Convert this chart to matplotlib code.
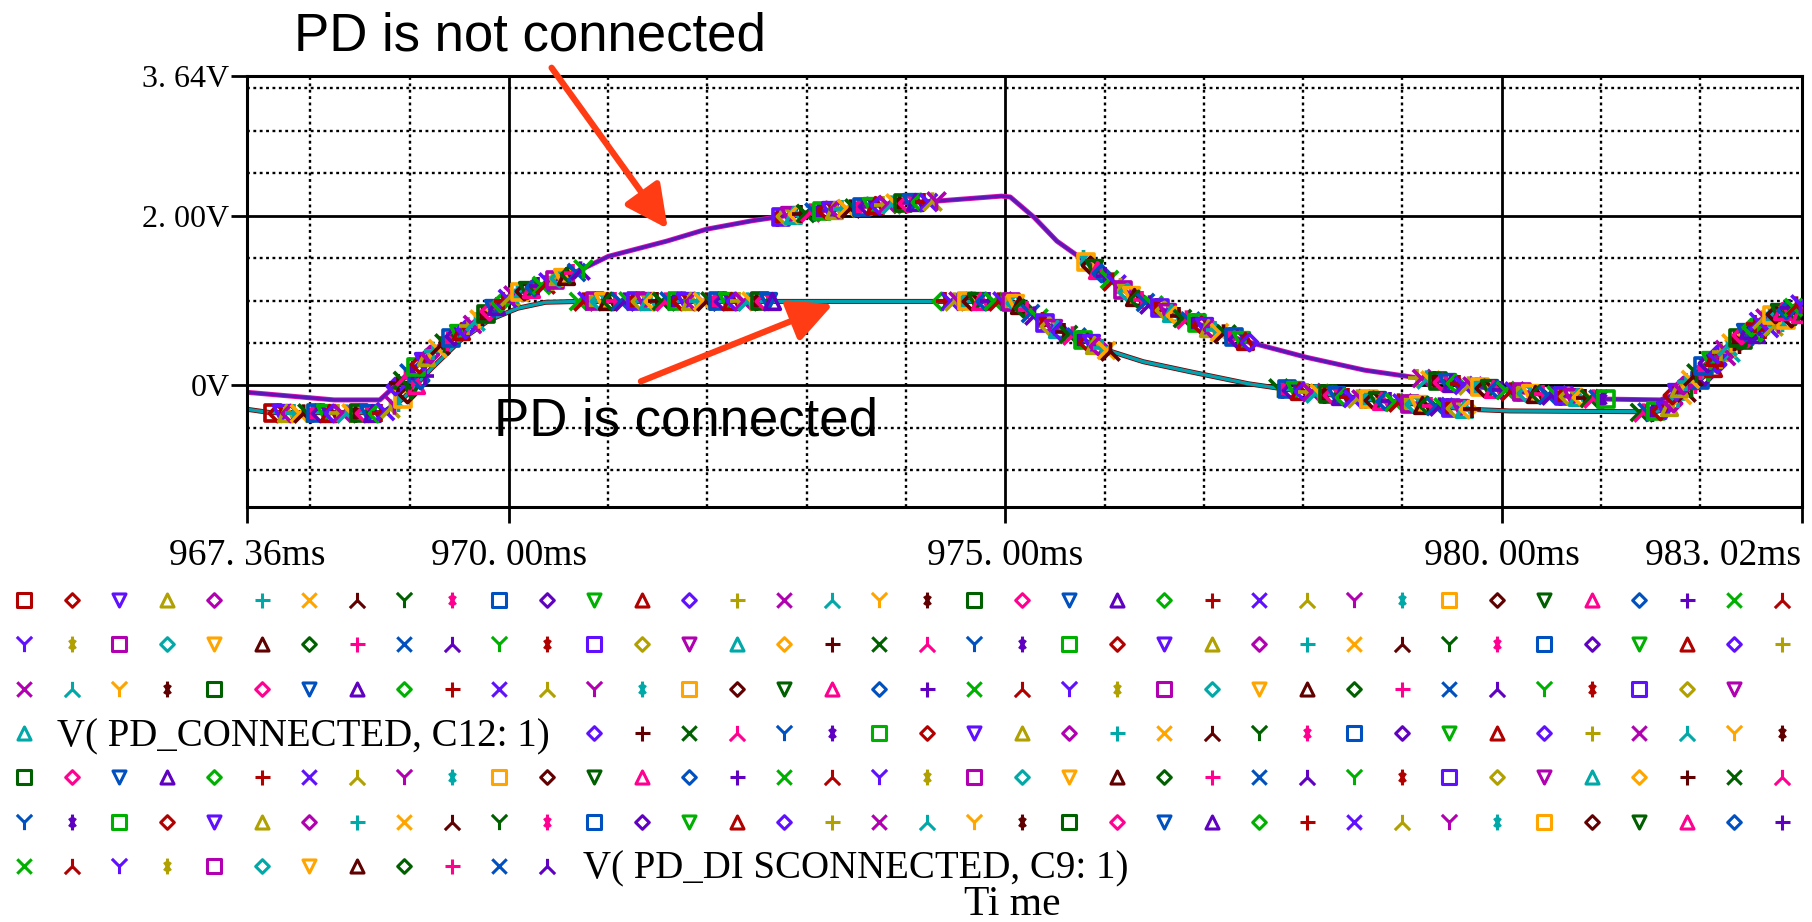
import numpy as np
import matplotlib
matplotlib.use("Agg")
import matplotlib.pyplot as plt
from matplotlib.path import Path

# ---------------- data ----------------
t_not_connected = [967.36, 968.24, 968.70, 968.93, 969.28, 969.63, 970.00, 970.37, 970.72,
                   971.00, 971.59, 971.99, 972.45, 973.09, 973.94, 974.29, 974.96, 975.05,
                   975.29, 975.52, 975.81, 976.28, 976.75, 977.39, 978.04, 978.62, 979.21,
                   979.79, 980.37, 981.02, 981.60, 981.71, 982.13, 982.60, 983.02]
v_not_connected = [-0.08, -0.17, -0.17, 0.08, 0.45, 0.73, 1.05, 1.20, 1.36,
                   1.52, 1.70, 1.84, 1.94, 2.05, 2.15, 2.17, 2.23, 2.22,
                   1.98, 1.70, 1.46, 1.05, 0.81, 0.53, 0.33, 0.18, 0.08,
                   -0.02, -0.10, -0.16, -0.17, -0.12, 0.33, 0.77, 0.97]

t_connected = [967.36, 967.60, 968.73, 968.93, 969.22, 969.51, 969.80, 970.09, 970.37,
               970.72, 972.50, 974.50, 975.02, 975.11, 975.46, 976.04, 976.39, 976.87,
               977.45, 977.80, 978.62, 979.67, 980.08, 981.54, 981.66, 982.01, 982.42, 983.02]
v_connected = [-0.28, -0.32, -0.32, -0.16, 0.20, 0.53, 0.77, 0.91, 0.98,
               0.99, 0.99, 0.99, 0.99, 0.97, 0.69, 0.41, 0.28, 0.16,
               0.02, -0.04, -0.16, -0.28, -0.30, -0.31, -0.28, 0.08, 0.53, 0.85]

# spans of the dense marker clusters along each trace and their marker counts
cl_not_start = [968.85, 972.70, 975.78, 979.15, 981.72]
cl_not_end = [970.75, 974.30, 977.45, 981.05, 983.00]
cl_not_count = [55, 40, 46, 46, 38]
cl_con_start = [967.62, 970.70, 974.35, 975.10, 977.75, 981.38]
cl_con_end = [969.15, 972.65, 975.10, 976.05, 979.70, 983.00]
cl_con_count = [36, 48, 18, 26, 48, 38]

x_tick_values = [967.36, 970.0, 975.0, 980.0, 983.02]
x_tick_labels = ["967. 36ms", "970. 00ms", "975. 00ms", "980. 00ms", "983. 02ms"]
x_minor_values = [968, 969, 971, 972, 973, 974, 976, 977, 978, 979, 981, 982]
y_tick_values = [0.0, 2.0, 3.64]
y_tick_labels = ["0V", "2. 00V", "3. 64V"]
y_minor_values = [-1.0, -0.5, 0.5, 1.0, 1.5, 2.5, 3.0, 3.5]
x_limits = (967.36, 983.02)
y_limits = (-1.43, 3.64)

trace_names = ["V( PD_CONNECTED, C12: 1)", "V( PD_DI SCONNECTED, C9: 1)"]
annot_not = "PD is not connected"
annot_con = "PD is connected"
x_axis_label = "Ti me"

# legend layout: (row, first column, number of symbols)
legend_runs = [(0, 0, 38), (1, 0, 38), (2, 0, 37), (3, 0, 1), (3, 12, 26),
               (4, 0, 38), (5, 0, 38), (6, 0, 12)]

# ---------------- styles ----------------
palette = ["#b00000", "#6010ff", "#b0a000", "#b000b0", "#00a8a8", "#ffa500",
           "#600000", "#006000", "#ff0090", "#0050c0", "#6000c0", "#00b000"]
color_override = {0: "#b00000", 114: "#6010ff"}


def color_of(i):
    return color_override.get(i, palette[(i - 1) % 12])


M, L, C = Path.MOVETO, Path.LINETO, Path.CLOSEPOLY
shape_paths = {
    "sq": Path([(-.5, -.5), (.5, -.5), (.5, .5), (-.5, .5), (-.5, -.5)], [M, L, L, L, C]),
    "di": Path([(0, -.5), (.5, 0), (0, .5), (-.5, 0), (0, -.5)], [M, L, L, L, C]),
    "dn": Path([(-.5, .5), (.5, .5), (0, -.5), (-.5, .5)], [M, L, L, C]),
    "up": Path([(-.5, -.5), (.5, -.5), (0, .5), (-.5, -.5)], [M, L, L, C]),
    "pl": Path([(-.5, 0), (.5, 0), (0, -.5), (0, .5)], [M, L, M, L]),
    "xx": Path([(-.5, -.5), (.5, .5), (-.5, .5), (.5, -.5)], [M, L, M, L]),
    "la": Path([(-.5, -.5), (0, 0), (.5, -.5), (0, 0), (0, 0), (0, .5)], [M, L, M, L, M, L]),
    "yy": Path([(-.5, .5), (0, 0), (.5, .5), (0, 0), (0, 0), (0, -.5)], [M, L, M, L, M, L]),
    "as": Path([(0, -.5), (0, .5), (-.2, -.27), (.2, .27), (-.2, .27), (.2, -.27)],
               [M, L, M, L, M, L]),
}
shape_cycle = ["sq", "di", "dn", "up", "di", "pl", "xx", "la", "yy", "as"]
shape_size = {"sq": 9.4, "di": 9.8, "dn": 9.4, "up": 9.4, "pl": 10.8, "xx": 10.4,
              "la": 11.0, "yy": 11.0, "as": 11.4}


def draw_marker(axis, x, y, idx, scale=1.0, **kw):
    shp = shape_cycle[idx % 10]
    axis.plot([x], [y], linestyle="none", marker=shape_paths[shp],
              ms=shape_size[shp] * scale, mfc="none", mec=color_of(idx),
              mew=2.2 * scale, **kw)


serif = ["Liberation Serif", "DejaVu Serif"]
sans = ["Liberation Sans", "DejaVu Sans"]

W, H = 1812, 922
fig = plt.figure(figsize=(W / 100, H / 100), dpi=100)
fig.patch.set_facecolor("white")

ax_l, ax_r, ax_t, ax_b = 246.8, 1801.5, 76.4, 506.9
ax = fig.add_axes([ax_l / W, 1 - ax_b / H, (ax_r - ax_l) / W, (ax_b - ax_t) / H])
ax.set_xlim(*x_limits)
ax.set_ylim(*y_limits)

ax.set_xticks(x_tick_values)
ax.set_xticklabels(x_tick_labels, fontfamily=serif, fontsize=27)
ax.set_xticks(x_minor_values, minor=True)
ax.set_yticks(y_tick_values)
ax.set_yticklabels(y_tick_labels, fontfamily=serif, fontsize=23)
ax.set_yticks(y_minor_values, minor=True)
ax.tick_params(which="major", direction="out", length=11.5, width=2.0, color="black")
ax.tick_params(axis="x", which="major", pad=11)
ax.tick_params(axis="y", which="major", pad=1)
ax.tick_params(which="minor", length=0)
ax.xaxis.get_major_ticks()[-1].label1.set_horizontalalignment("right")

ax.set_axisbelow(True)
ax.grid(which="major", color="black", linewidth=2.0, linestyle="-")
ax.grid(which="minor", color="black", linewidth=1.7, linestyle=(0, (1.2, 1.5)))
for sp in ax.spines.values():
    sp.set_linewidth(2.2)
    sp.set_color("black")

# traces (each drawn as overlapping runs in the original)
ax.plot(t_connected, v_connected, color="#7a0000", lw=3.6, zorder=2, solid_capstyle="butt")
ax.plot(t_connected, v_connected, color="#00a4b0", lw=2.4, zorder=2.1)
ax.plot(t_not_connected, v_not_connected, color="#e010b0", lw=3.6, zorder=2.2)
ax.plot(t_not_connected, v_not_connected, color="#5a18b8", lw=2.4, zorder=2.3)

# marker clusters
idx = 0
for t0, t1, n in zip(cl_con_start, cl_con_end, cl_con_count):
    for tm in np.linspace(t0, t1, n):
        draw_marker(ax, tm, np.interp(tm, t_connected, v_connected), idx,
                    scale=1.2, zorder=3)
        idx += 1
idx = 114
for t0, t1, n in zip(cl_not_start, cl_not_end, cl_not_count):
    for tm in np.linspace(t0, t1, n):
        draw_marker(ax, tm, np.interp(tm, t_not_connected, v_not_connected), idx,
                    scale=1.2, zorder=3)
        idx += 1

# annotations
arrow_kw = dict(arrowstyle="-|>,head_length=1.3,head_width=0.65", lw=4.5,
                color="#ff3c14", shrinkA=0, shrinkB=0, mutation_scale=20)
ax.annotate("", xy=(971.60, 1.846), xytext=(970.43, 3.742), arrowprops=arrow_kw,
            annotation_clip=False, zorder=6)
ax.annotate("", xy=(973.265, 0.956), xytext=(971.33, 0.049), arrowprops=arrow_kw,
            annotation_clip=False, zorder=6)
ax.text(967.84, 3.94, annot_not, fontfamily=sans, fontsize=38, va="baseline",
        ha="left", clip_on=False, zorder=6)
ax.text(969.85, -0.59, annot_con, fontfamily=sans, fontsize=38, va="baseline",
        ha="left", clip_on=False, zorder=6)

# legend (symbol list + trace names), drawn in pixel coordinates
lax = fig.add_axes([0, 0, 1, 1])
lax.set_xlim(0, W)
lax.set_ylim(H, 0)
lax.axis("off")
lx0, ldx, ly0, ldy = 24.3, 47.5, 600.0, 44.3
i = 0
for row, col0, cnt in legend_runs:
    for k in range(cnt):
        draw_marker(lax, lx0 + (col0 + k) * ldx, ly0 + row * ldy, i, clip_on=False)
        i += 1
lax.text(57, 746, trace_names[0], fontfamily=serif, fontsize=28, va="baseline", ha="left")
lax.text(583, 878, trace_names[1], fontfamily=serif, fontsize=28, va="baseline", ha="left")
lax.text(1012, 915, x_axis_label, fontfamily=serif, fontsize=30, va="baseline", ha="center")

fig.savefig("out.png", dpi=100, facecolor="white")
